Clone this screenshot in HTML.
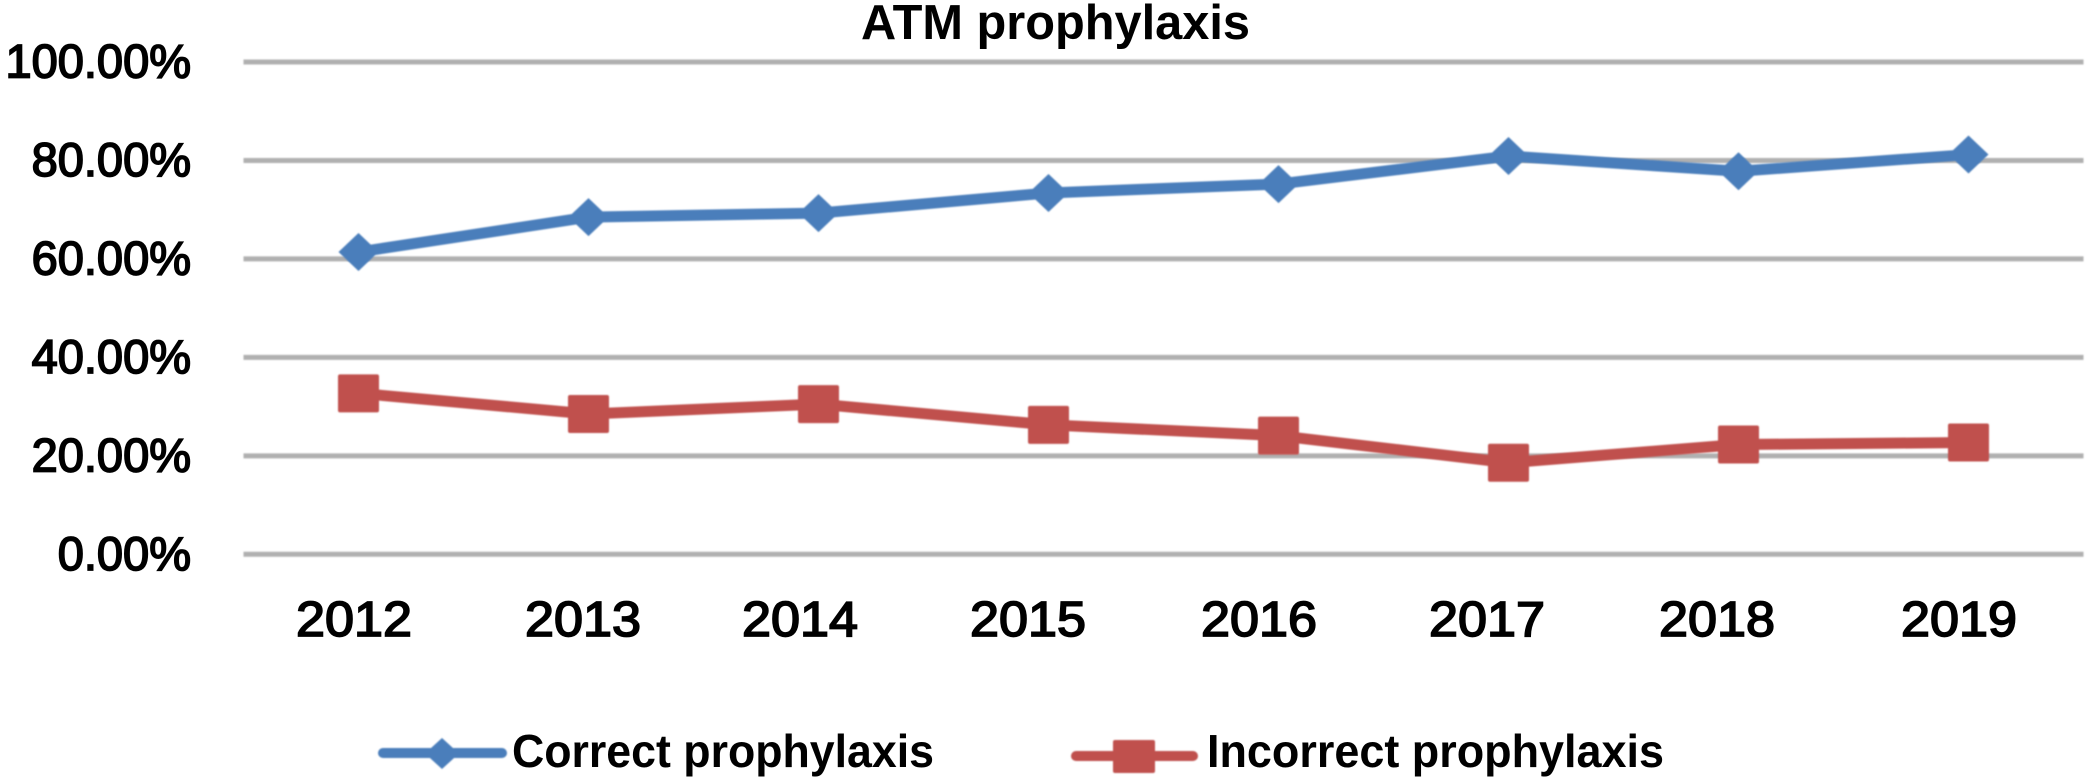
<!DOCTYPE html>
<html lang="en">
<head>
<meta charset="utf-8">
<title>ATM prophylaxis</title>
<style>
html,body{margin:0;padding:0;background:#fff;width:2092px;height:777px;overflow:hidden}
svg{display:block}
text{font-family:"Liberation Sans",sans-serif;fill:#000}
.ytick{font-size:47px;stroke:#000;stroke-width:1.7px;text-anchor:end}
.xtick{font-size:49px;stroke:#000;stroke-width:1.7px}
.title{font-size:49px;font-weight:bold}
.legend-label{font-size:46px;font-weight:bold}
#grid,#series,#legend-marks-a,#legend-marks-b{filter:blur(0.7px)}
</style>
</head>
<body>
<svg id="chart" width="2092" height="777" viewBox="0 0 2092 777" xmlns="http://www.w3.org/2000/svg">
  <text class="title" x="861" y="39" textLength="389" lengthAdjust="spacingAndGlyphs">ATM prophylaxis</text>
  <g id="grid"></g>
  <g id="yticks"></g>
  <g id="xticks">
    <text class="xtick" x="296" y="636" textLength="116" lengthAdjust="spacingAndGlyphs">2012</text>
    <text class="xtick" x="525" y="636" textLength="116" lengthAdjust="spacingAndGlyphs">2013</text>
    <text class="xtick" x="742" y="636" textLength="116" lengthAdjust="spacingAndGlyphs">2014</text>
    <text class="xtick" x="970" y="636" textLength="116" lengthAdjust="spacingAndGlyphs">2015</text>
    <text class="xtick" x="1201" y="636" textLength="116" lengthAdjust="spacingAndGlyphs">2016</text>
    <text class="xtick" x="1429" y="636" textLength="116" lengthAdjust="spacingAndGlyphs">2017</text>
    <text class="xtick" x="1659" y="636" textLength="116" lengthAdjust="spacingAndGlyphs">2018</text>
    <text class="xtick" x="1901" y="636" textLength="116" lengthAdjust="spacingAndGlyphs">2019</text>
  </g>
  <g id="series"></g>
  <g>
    <g>
      <g id="legend-marks-a">
        <line x1="383" y1="753" x2="502" y2="753" stroke="#4a7ebb" stroke-width="10" stroke-linecap="round"/>
        <polygon points="442,738 459,753.5 442,769 425,753.5" fill="#4a7ebb"/>
      </g>
      <text class="legend-label" x="512" y="767" textLength="422" lengthAdjust="spacingAndGlyphs">Correct prophylaxis</text>
    </g>
    <g>
      <g id="legend-marks-b">
        <line x1="1076" y1="756" x2="1193" y2="756" stroke="#c0504d" stroke-width="10" stroke-linecap="round"/>
        <rect x="1113" y="740" width="42" height="33" rx="2" fill="#c0504d"/>
      </g>
      <text class="legend-label" x="1207" y="767" textLength="457" lengthAdjust="spacingAndGlyphs">Incorrect prophylaxis</text>
    </g>
  </g>
</svg>
<script>
const categories = ["2012", "2013", "2014", "2015", "2016", "2017", "2018", "2019"];
const correctValues = [61.4, 68.5, 69.3, 73.4, 75.2, 80.9, 77.8, 81.2];
const incorrectValues = [32.7, 28.5, 30.5, 26.3, 24.1, 18.6, 22.3, 22.7];
const yTickValues = [0, 20, 40, 60, 80, 100];
const yTickLabels = ["0.00%", "20.00%", "40.00%", "60.00%", "80.00%", "100.00%"];

const SVG_NS = "http://www.w3.org/2000/svg";
const plotLeft = 243.5, plotRight = 2083.5, plotTop = 62, plotBottom = 554.3;
function xScale(i) {
  return plotLeft + (i + 0.5) * (plotRight - plotLeft) / categories.length;
}
function yScale(v) {
  return plotBottom - v / 100 * (plotBottom - plotTop);
}
function make(tag, attrs, parent) {
  const el = document.createElementNS(SVG_NS, tag);
  for (const k in attrs) el.setAttribute(k, attrs[k]);
  parent.appendChild(el);
  return el;
}

const gridLayer = document.getElementById("grid");
const yLayer = document.getElementById("yticks");
yTickValues.forEach(function (v, i) {
  const line = make("line", {x1: plotLeft, x2: plotRight, y1: yScale(v), y2: yScale(v), stroke: "#b0b0b0", "stroke-width": 5}, gridLayer);
  
  
  const label = make("text", {x: 191, y: yScale(v) + 15.5, class: "ytick"}, yLayer);
  label.textContent = yTickLabels[i];
  
  
});

const seriesLayer = document.getElementById("series");
function drawLine(values, color, name) {
  const pts = values.map(function (v, i) { return xScale(i) + "," + yScale(v); }).join(" ");
  const line = make("polyline", {points: pts, fill: "none", stroke: color, "stroke-width": 11, "stroke-linejoin": "round"}, seriesLayer);
  
  
}
function drawDiamonds(values, color) {
  values.forEach(function (v, i) {
    const x = xScale(i), y = yScale(v);
    const p = make("polygon", {points: x + "," + (y - 19) + " " + (x + 20) + "," + y + " " + x + "," + (y + 19) + " " + (x - 20) + "," + y, fill: color}, seriesLayer);
    
    
  });
}
function drawSquares(values, color) {
  values.forEach(function (v, i) {
    const x = xScale(i), y = yScale(v);
    const r = make("rect", {x: x - 20.5, y: y - 19, width: 41, height: 38, rx: 2, fill: color}, seriesLayer);
    
    
  });
}
drawLine(correctValues, "#4a7ebb", "correct");
drawDiamonds(correctValues, "#4a7ebb");
drawLine(incorrectValues, "#c0504d", "incorrect");
drawSquares(incorrectValues, "#c0504d");
</script>
</body>
</html>
